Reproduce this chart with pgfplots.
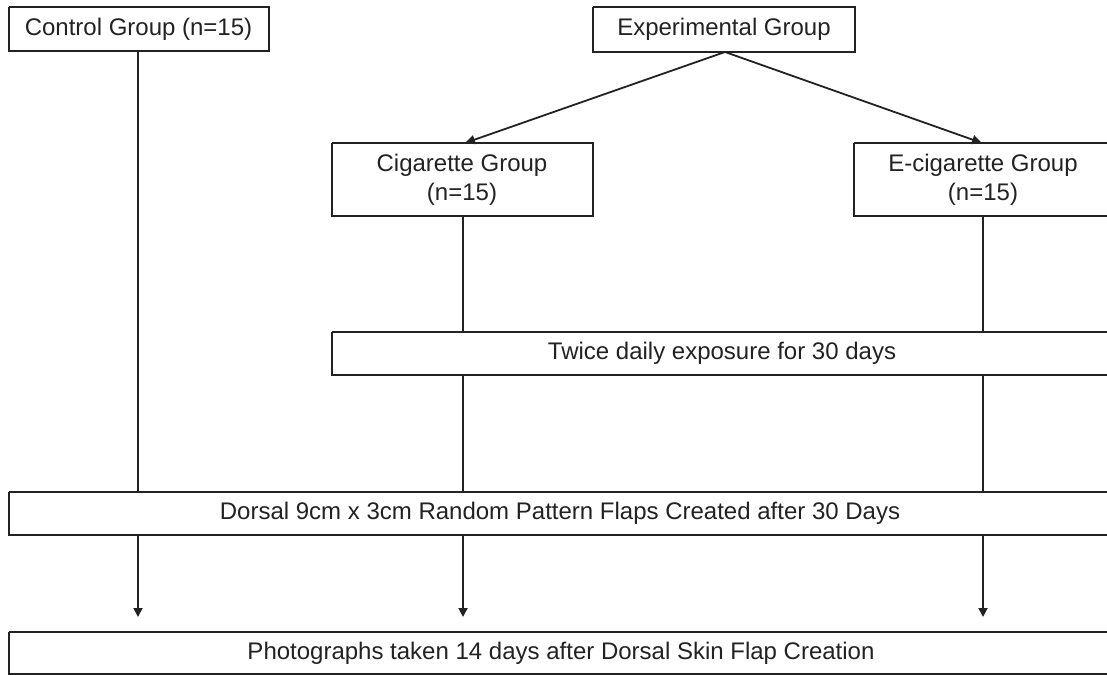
\documentclass[border=0pt]{standalone}
\usepackage{fontspec}
\setmainfont{Liberation Sans}
\usepackage{pgfplots}
\pgfplotsset{compat=1.18}
\usetikzlibrary{arrows.meta}
\definecolor{ln}{HTML}{222222}
\begin{document}
\begin{tikzpicture}
\begin{axis}[
  width=553.5bp, height=337.5bp, scale only axis,
  xmin=0, xmax=1107, ymin=0, ymax=675, y dir=reverse,
  hide axis, clip=true,
  ln/.style={color=ln, solid, line width=0.9bp, mark=none},
  nodes={font=\fontsize{12bp}{14.5bp}\selectfont, text=ln, align=center},
]
% boxes
\addplot[ln] coordinates {(9,7) (269,7) (269,51) (9,51) (9,7)};
\addplot[ln] coordinates {(593,7) (855,7) (855,52) (593,52) (593,7)};
\addplot[ln] coordinates {(332,143) (593,143) (593,216) (332,216) (332,143)};
\addplot[ln] coordinates {(854,143) (1115,143) (1115,216) (854,216) (854,143)};
\addplot[ln] coordinates {(332,332) (1115,332) (1115,375) (332,375) (332,332)};
\addplot[ln] coordinates {(9,492) (1115,492) (1115,535) (9,535) (9,492)};
\addplot[ln] coordinates {(9,632) (1115,632) (1115,674) (9,674) (9,632)};
% connecting lines
\addplot[ln] coordinates {(138,51) (138,492)};
\addplot[ln] coordinates {(463,216) (463,332)};
\addplot[ln] coordinates {(463,375) (463,492)};
\addplot[ln] coordinates {(983,216) (983,332)};
\addplot[ln] coordinates {(983,375) (983,492)};
% arrows
\addplot[ln, -{Triangle[width=4.5bp,length=5bp]}] coordinates {(725,52) (465,143)};
\addplot[ln, -{Triangle[width=4.5bp,length=5bp]}] coordinates {(725,52) (982,143)};
\addplot[ln, -{Triangle[width=4.5bp,length=4.5bp]}] coordinates {(138,535) (138,617)};
\addplot[ln, -{Triangle[width=4.5bp,length=4.5bp]}] coordinates {(463,535) (463,617)};
\addplot[ln, -{Triangle[width=4.5bp,length=4.5bp]}] coordinates {(983,535) (983,617)};
% texts
\node at (138.5,29) {Control Group (n=15)};
\node at (724,29.5) {Experimental Group};
\node at (462,179.5) {Cigarette Group\\(n=15)};
\node at (983,179.5) {E-cigarette Group\\(n=15)};
\node at (722,353.5) {Twice daily exposure for 30 days};
\node at (560,513.5) {Dorsal 9cm x 3cm Random Pattern Flaps Created after 30 Days};
\node at (561,653) {Photographs taken 14 days after Dorsal Skin Flap Creation};
\end{axis}
\pgfresetboundingbox
\path (current axis.south west) rectangle (current axis.north east);
\end{tikzpicture}
\end{document}
